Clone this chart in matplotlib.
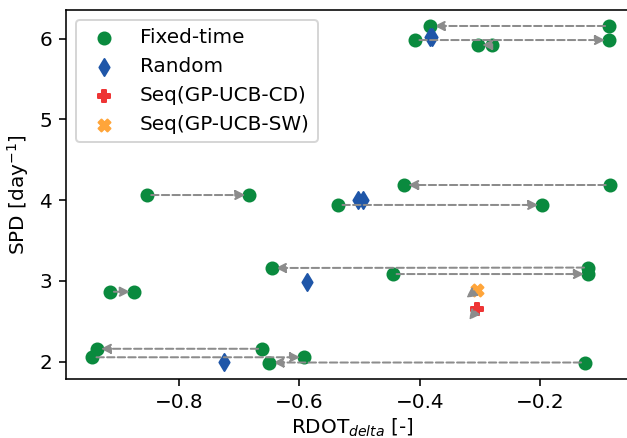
import numpy as np
import matplotlib
matplotlib.use("Agg")
import matplotlib.pyplot as plt

# Fixed-time pairs: start -> end (arrow direction)
fixed_start_x = [-0.662, -0.944, -0.125, -0.915, -0.120, -0.445, -0.853, -0.535, -0.084, -0.085, -0.407, -0.280]
fixed_start_y = [2.160, 2.055, 1.990, 2.866, 3.165, 3.085, 4.063, 3.940, 4.187, 6.155, 5.981, 5.920]
fixed_end_x = [-0.937, -0.592, -0.650, -0.875, -0.646, -0.120, -0.683, -0.196, -0.426, -0.382, -0.085, -0.303]
fixed_end_y = [2.160, 2.055, 1.990, 2.866, 3.160, 3.085, 4.063, 3.940, 4.187, 6.155, 5.981, 5.920]

random_x = [-0.383, -0.379, -0.502, -0.494, -0.588, -0.726]
random_y = [6.02, 6.02, 4.00, 4.00, 2.99, 2.00]

seq_cd_x = [-0.304]
seq_cd_y = [2.649]
seq_cd_end_x = [-0.322]
seq_cd_end_y = [2.478]

seq_sw_x = [-0.305]
seq_sw_y = [2.886]
seq_sw_end_x = [-0.328]
seq_sw_end_y = [2.762]

green = '#0a8a3e'
blue = '#1f56a8'
red = '#ee3535'
orange = '#ffa53a'
arrow_col = '#8c8c8c'

fig = plt.figure(figsize=(627 / 144, 438 / 144), dpi=144)
ax = fig.add_axes([0.1053, 0.1347, 0.9122, 0.8425])

arrowprops = dict(arrowstyle='-|>', linestyle='--', color=arrow_col, lw=1.0)

ax.scatter(fixed_start_x + fixed_end_x, fixed_start_y + fixed_end_y,
           marker='o', color=green, label='Fixed-time', zorder=2)
ax.scatter(random_x, random_y, marker='d', color=blue, label='Random', zorder=2)
ax.scatter(seq_cd_x, seq_cd_y, marker='P', color=red, label='Seq(GP-UCB-CD)', zorder=2)
ax.scatter(seq_sw_x, seq_sw_y, marker='X', color=orange, label='Seq(GP-UCB-SW)', zorder=2)

for x0, y0, x1, y1 in zip(fixed_start_x, fixed_start_y, fixed_end_x, fixed_end_y):
    ax.annotate('', xy=(x1, y1), xytext=(x0, y0), arrowprops=arrowprops, zorder=3)
for x0, y0, x1, y1 in zip(seq_cd_x + seq_sw_x, seq_cd_y + seq_sw_y,
                          seq_cd_end_x + seq_sw_end_x, seq_cd_end_y + seq_sw_end_y):
    ax.annotate('', xy=(x1, y1), xytext=(x0, y0), arrowprops=arrowprops, zorder=3)

ax.set_xlim(-0.988, -0.037)
ax.set_ylim(1.786, 6.353)
ax.set_xticks([-0.8, -0.6, -0.4, -0.2])
ax.set_yticks([2, 3, 4, 5, 6])
ax.spines['right'].set_visible(False)
ax.set_xlabel(r'RDOT$_{delta}$ [-]', labelpad=2.5)
ax.set_ylabel(r'SPD [day$^{-1}$]')
ax.legend(loc='upper left')

fig.savefig('out.png', dpi=144)
